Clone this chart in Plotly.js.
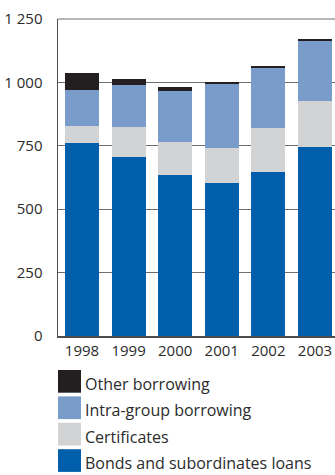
<!DOCTYPE html>
<html><head><meta charset="utf-8">
<script src="https://cdn.plot.ly/plotly-3.0.1.min.js"></script>
<style>html,body{margin:0;padding:0;background:#fff}#chart{width:335px;height:475px}</style>
</head><body><div id="chart"></div>
<script>
const years = ['1998','1999','2000','2001','2002','2003'];
const bonds = [760, 706, 635, 603, 647, 746];
const certificates = [68, 118, 130, 138, 173, 181];
const intraGroup = [142, 166, 201, 253, 237, 236];
const other = [67, 23, 16, 7, 8, 8];
const seriesNames = ['Bonds and subordinates loans','Certificates','Intra-group borrowing','Other borrowing'];
const seriesColors = ['#005eaa','#d1d3d4','#7a9ccb','#231f20'];
const yTickVals = [0, 250, 500, 750, 1000, 1250];
const yTickText = ['0','250','500','750','1 000','1 250'];

const W = 335, H = 475, ML = 58, MR = 0, MT = 19, MB = 139;
const pw = W - ML - MR, ph = H - MT - MB;
const px2x = p => (p - ML) / pw;
const py2y = p => (H - MB - p) / ph;

const vals = [bonds, certificates, intraGroup, other];
const traces = vals.map((v, i) => ({
  type: 'bar', x: years, y: v, name: seriesNames[i],
  marker: {color: seriesColors[i], line: {width: 0}},
  hoverinfo: 'none', showlegend: false
}));

const font = {family: '"Open Sans", sans-serif', size: 15, color: '#2b2b2b'};
const legFont = {family: '"Open Sans", sans-serif', size: 16, color: '#2b2b2b'};
const shapes = [], annotations = [];
// top border line at 1250
shapes.push({type: 'line', xref: 'paper', yref: 'paper', x0: 0, x1: 1, y0: 1, y1: 1,
  line: {color: '#6d6e71', width: 1}, layer: 'below'});
// legend, listed top-down in reverse stack order
for (let k = 0; k < 4; k++) {
  const i = 3 - k;
  const top = 370 + k * 26.4;
  shapes.push({type: 'rect', xref: 'paper', yref: 'paper',
    x0: px2x(58), x1: px2x(81), y0: py2y(top), y1: py2y(top + 22.7),
    fillcolor: seriesColors[i], line: {width: 0}});
  annotations.push({xref: 'paper', yref: 'paper', x: px2x(84), y: py2y(top + 25.8),
    xanchor: 'left', yanchor: 'bottom', borderpad: 0, showarrow: false,
    text: seriesNames[i], font: legFont});
}

const layout = {
  width: W, height: H,
  margin: {l: ML, r: MR, t: MT, b: MB, pad: 0},
  paper_bgcolor: '#fff', plot_bgcolor: '#fff',
  barmode: 'stack', bargap: 0.27,
  font: font,
  showlegend: false,
  xaxis: {type: 'category', range: [-0.515, 5.43], showgrid: false, ticks: '', showline: true,
    linecolor: '#4d4d4f', linewidth: 1.5, tickfont: font, fixedrange: true},
  yaxis: {range: [0, 1250], tickvals: yTickVals, ticktext: yTickText, showgrid: true,
    gridcolor: '#6d6e71', gridwidth: 1, zeroline: false, showline: true,
    linecolor: '#4d4d4f', linewidth: 1.5, ticks: '', ticklabelstandoff: 11, tickfont: font, fixedrange: true},
  shapes: shapes, annotations: annotations
};
Plotly.newPlot('chart', traces, layout, {staticPlot: true, displayModeBar: false});
</script></body></html>
